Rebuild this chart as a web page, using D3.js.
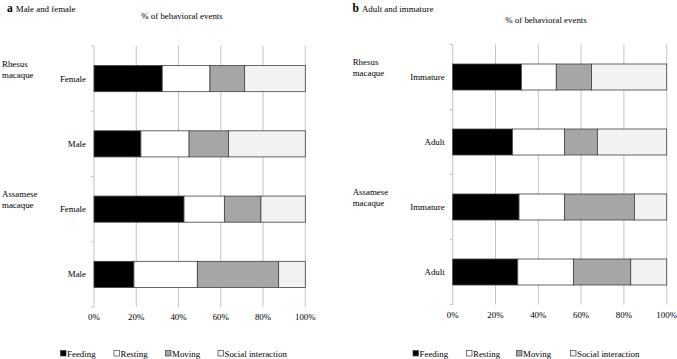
<!DOCTYPE html>
<html><head><meta charset="utf-8">
<script src="https://cdn.jsdelivr.net/npm/d3@7"></script>
<style>body{margin:0;background:#fff}svg{display:block}text{font-family:"Liberation Serif","Times New Roman",serif;fill:#000}</style>
</head><body>
<script>
const behaviors = ["Feeding","Resting","Moving","Social interaction"];
const colors = ["#000000","#ffffff","#a6a6a6","#f2f2f2"];
const xTicks = [0,20,40,60,80,100];
const groupsA = ["Rhesus macaque","Assamese macaque"];
const catsA = ["Female","Male","Female","Male"];
const feedingA = [32.3,22.2,42.6,18.9];
const restingA = [22.6,22.8,19.1,30.0];
const movingA  = [16.4,18.7,17.3,38.5];
const socialA  = [28.7,36.3,21.0,12.6];
const catsB = ["Immature","Adult","Immature","Adult"];
const feedingB = [32.1,27.9,31.0,30.4];
const restingB = [16.3,24.3,21.2,26.0];
const movingB  = [16.5,15.4,32.7,26.8];
const socialB  = [35.1,32.4,15.1,16.8];

const W=677,H=359,FS=8.9;
const svg=d3.select("body").append("svg").attr("width",W).attr("height",H);

function panel(o){
  const g=svg.append("g");
  const x=d3.scaleLinear().domain([0,100]).range([o.x0,o.x1]);
  const y=d3.scaleBand().domain(d3.range(o.cats.length)).range([o.y0,o.y1]).paddingInner(0.6).paddingOuter(0.3);
  g.selectAll("line.grid").data(xTicks).join("line")
    .attr("x1",d=>x(d)).attr("x2",d=>x(d)).attr("y1",o.y0).attr("y2",o.y1)
    .attr("stroke","#c4c4c4").attr("stroke-width",1);
  const step=(o.y1-o.y0)/o.cats.length;
  g.selectAll("line.yt").data(d3.range(o.cats.length+1)).join("line")
    .attr("x1",x(0)-3).attr("x2",x(0)).attr("y1",d=>o.y0+d*step).attr("y2",d=>o.y0+d*step)
    .attr("stroke","#c4c4c4");
  const rows=o.cats.map((c,i)=>({feeding:o.f[i],resting:o.r[i],moving:o.m[i],social:o.s[i]}));
  const stack=d3.stack().keys(["feeding","resting","moving","social"])(rows);
  stack.forEach((layer,k)=>{
    g.selectAll(null).data(layer).join("rect")
      .attr("x",d=>x(d[0])).attr("width",d=>x(d[1])-x(d[0]))
      .attr("y",(d,i)=>y(i)).attr("height",y.bandwidth())
      .attr("fill",colors[k]).attr("stroke","#404040").attr("stroke-width",0.8);
  });
  g.selectAll("text.cat").data(o.cats).join("text")
    .attr("x",x(0)-8).attr("y",(d,i)=>y(i)+y.bandwidth()/2).attr("dy","0.35em")
    .attr("text-anchor","end").attr("font-size",FS).text(d=>d);
  o.groups.forEach((gr,j)=>{
    const words=gr.split(" ");
    const cy=y(j*2)+y.bandwidth()/2;
    g.append("text").attr("x",o.gx).attr("y",cy-12).attr("font-size",FS).text(words[0]);
    g.append("text").attr("x",o.gx).attr("y",cy-1).attr("font-size",FS).text(words[1]);
  });
  g.selectAll("text.xt").data(xTicks).join("text")
    .attr("x",d=>x(d)).attr("y",o.y1+13).attr("text-anchor","middle").attr("font-size",FS).text(d=>d+"%");
  g.append("text").attr("x",o.titleX).attr("y",o.titleY).attr("text-anchor","middle").attr("font-size",FS).text("% of behavioral events");
  const pl=g.append("text").attr("x",o.px).attr("y",12).attr("font-size",FS);
  pl.append("tspan").attr("font-weight","bold").attr("font-size",11.5).text(o.letter);
  pl.append("tspan").attr("dx",3).text(o.ptitle);
  behaviors.forEach((b,k)=>{
    g.append("rect").attr("x",o.legX[k]).attr("y",350.5).attr("width",5.5).attr("height",5.5)
      .attr("fill",colors[k]).attr("stroke","#404040").attr("stroke-width",0.7);
    g.append("text").attr("x",o.legX[k]+6.5).attr("y",353.5).attr("dy","0.35em").attr("font-size",FS).text(b);
  });
}

panel({x0:94,x1:305.3,y0:46,y1:307,cats:catsA,groups:groupsA,f:feedingA,r:restingA,m:movingA,s:socialA,
  gx:2,titleX:182,titleY:19,px:7,letter:"a",ptitle:"Male and female",legX:[60.5,114,165.5,218]});
panel({x0:452.7,x1:666.7,y0:44.5,y1:304.5,cats:catsB,groups:groupsA,f:feedingB,r:restingB,m:movingB,s:socialB,
  gx:352.7,titleX:546,titleY:23,px:352.5,letter:"b",ptitle:"Adult and immature",legX:[413,466.5,516.5,570.5]});
</script>
</body></html>
